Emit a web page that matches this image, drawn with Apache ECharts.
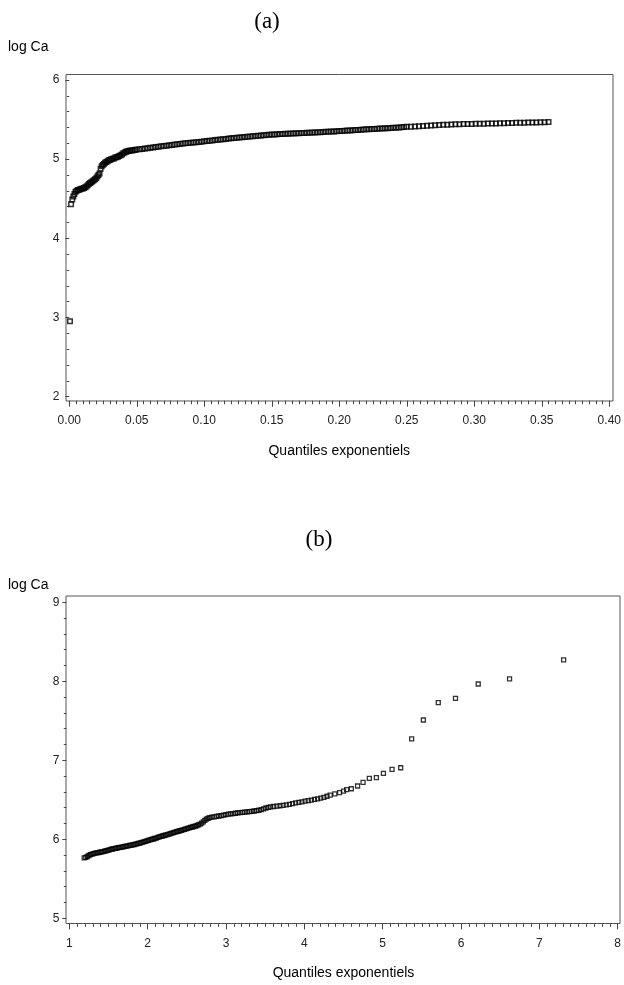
<!DOCTYPE html>
<html>
<head>
<meta charset="utf-8">
<script src="https://cdn.jsdelivr.net/npm/echarts@6/dist/echarts.min.js"></script>
<style>
html,body{margin:0;padding:0;background:#ffffff;}
#chart{width:624px;height:985px;}
</style>
</head>
<body>
<div id="chart"></div>
<script>
// ---------- Data ----------
// Panel (a): exponential quantiles vs log Ca
const aX = [0.0005,
 0.0013,0.0022,0.0030,0.0038,0.0046,0.0055,0.0064,0.0073,0.0082,0.0091,0.0100,0.0109,0.0118,0.0127,0.0136,0.0145,0.0154,0.0163,0.0172,0.0181,0.0190,0.0199,0.0208,0.0216,0.0224,0.0232,0.0240,0.0248,0.0256,0.0265,0.0274,0.0283,0.0292,0.0301,0.0310,0.0320,0.0330,0.0340,0.0350,0.0360,0.0370,0.0380,0.0390,0.0400,0.0410,0.0420,0.0430,0.0440,0.0450,0.0462,0.0474,0.0486,0.0498,
 0.052,0.054,0.056,0.058,0.060,0.062,0.064,0.066,0.068,0.070,0.072,0.074,0.076,0.078,0.080,0.082,0.084,0.086,0.088,0.090,0.092,0.094,0.096,0.098,0.100,0.102,0.104,0.106,0.108,0.110,0.112,0.114,0.116,0.118,0.120,0.122,0.124,0.126,0.128,0.130,0.132,0.134,0.136,0.138,0.140,0.142,0.144,0.146,0.148,0.150,0.152,0.154,0.156,0.158,0.160,0.162,0.164,0.166,0.168,0.170,0.172,0.174,0.176,0.178,0.180,0.182,0.184,0.186,0.188,0.190,0.192,0.194,0.196,0.198,0.200,0.202,0.204,0.206,0.208,0.210,0.212,0.214,0.216,0.218,0.220,0.222,0.224,0.226,0.228,0.230,0.232,0.234,0.236,0.238,0.240,0.242,0.244,0.246,0.248,
 0.250,0.253,0.256,0.259,0.262,0.265,0.268,0.271,0.274,0.277,0.280,0.283,0.286,0.289,0.292,0.295,0.298,0.301,0.304,0.307,0.310,0.313,0.316,0.319,0.322,0.325,0.328,0.331,0.334,0.337,0.340,0.343,0.346,0.349,0.352,0.355,0.357];
const aY = [2.953,
 4.43,4.49,4.53,4.56,4.59,4.60,4.61,4.615,4.62,4.625,4.63,4.635,4.645,4.655,4.67,4.685,4.70,4.71,4.72,4.735,4.745,4.76,4.78,4.80,4.82,4.88,4.91,4.925,4.94,4.955,4.965,4.975,4.985,4.99,5.00,5.005,5.01,5.02,5.025,5.03,5.04,5.05,5.06,5.075,5.085,5.095,5.10,5.104,5.108,5.111,5.114,5.117,
 5.121,5.125,5.130,5.135,5.139,5.144,5.149,5.154,5.158,5.163,5.167,5.171,5.175,5.180,5.184,5.188,5.193,5.197,5.201,5.205,5.208,5.211,5.214,5.218,5.221,5.225,5.229,5.233,5.237,5.241,5.245,5.249,5.252,5.256,5.260,5.263,5.267,5.270,5.274,5.277,5.280,5.284,5.287,5.290,5.293,5.296,5.300,5.303,5.306,5.309,5.311,5.313,5.315,5.317,5.319,5.321,5.322,5.324,5.325,5.327,5.329,5.330,5.332,5.333,5.335,5.337,5.338,5.340,5.341,5.343,5.345,5.347,5.349,5.351,5.353,5.355,5.357,5.359,5.361,5.363,5.366,5.368,5.370,5.373,5.375,5.377,5.379,5.381,5.382,5.384,5.386,5.388,5.390,5.392,5.394,5.396,5.398,5.400,5.403,
 5.405,5.408,5.411,5.414,5.417,5.420,5.423,5.426,5.428,5.431,5.434,5.436,5.438,5.440,5.441,5.443,5.444,5.445,5.447,5.448,5.449,5.450,5.451,5.452,5.454,5.455,5.456,5.457,5.459,5.460,5.461,5.462,5.463,5.464,5.465,5.467,5.468];

// Panel (b): exponential quantiles vs log Ca
const bX = [1.19,1.21,1.23,1.25,1.27,1.29,1.31,1.33,1.35,1.37,1.39,1.41,1.43,1.45,1.47,1.49,1.51,1.53,1.55,1.57,1.59,1.61,1.63,1.65,1.67,1.69,1.71,1.73,1.75,1.77,1.79,1.81,1.83,1.85,1.87,1.89,1.91,1.93,1.95,1.97,1.99,2.01,2.03,2.05,2.07,2.09,2.11,2.13,2.15,2.17,2.19,2.21,2.23,2.25,2.27,2.29,2.31,2.33,2.35,2.37,2.39,2.41,2.43,2.45,2.47,2.49,2.51,2.53,2.55,2.57,2.59,2.61,2.63,2.65,2.67,2.69,2.71,2.73,2.75,2.77,
 2.79,2.82,2.85,2.88,2.91,2.94,2.97,3.00,3.03,3.06,3.09,3.12,3.15,3.18,3.21,3.24,3.27,3.30,3.33,3.36,3.39,3.42,3.45,3.48,3.51,3.54,3.57,
 3.61,3.65,3.69,3.73,3.77,3.81,3.85,3.89,3.93,3.97,4.01,4.05,4.09,4.13,4.17,4.21,4.25,4.29,4.33,4.39,4.45,4.50,4.54,4.60,4.68,4.75,4.83,4.92,5.01,5.12,5.23,5.37,5.52,5.71,5.93,6.22,6.62,7.31];
const bY = [5.765,5.772,5.782,5.795,5.805,5.812,5.818,5.824,5.828,5.832,5.836,5.840,5.845,5.850,5.855,5.860,5.866,5.872,5.877,5.882,5.886,5.890,5.894,5.898,5.902,5.906,5.910,5.914,5.918,5.922,5.926,5.930,5.934,5.938,5.944,5.950,5.956,5.962,5.968,5.974,5.980,5.986,5.992,5.998,6.004,6.010,6.016,6.024,6.030,6.036,6.042,6.048,6.054,6.060,6.066,6.072,6.078,6.084,6.090,6.096,6.102,6.108,6.114,6.120,6.126,6.132,6.138,6.144,6.150,6.156,6.162,6.168,6.175,6.183,6.192,6.205,6.220,6.240,6.255,6.265,
 6.275,6.280,6.285,6.290,6.295,6.300,6.305,6.312,6.318,6.322,6.326,6.330,6.334,6.337,6.340,6.343,6.346,6.350,6.354,6.358,6.362,6.368,6.376,6.386,6.396,6.404,6.410,
 6.415,6.420,6.425,6.430,6.436,6.443,6.452,6.460,6.468,6.475,6.482,6.490,6.497,6.505,6.512,6.520,6.530,6.545,6.560,6.575,6.590,6.610,6.630,6.640,6.675,6.720,6.770,6.780,6.835,6.886,6.906,7.270,7.510,7.730,7.785,7.966,8.030,8.270];

// Axis ranges / ticks
const aXTicks = {min:0, max:0.40, interval:0.05};
const aYTicks = {min:2, max:6, interval:1};
const bXTicks = {min:1, max:8, interval:1};
const bYTicks = {min:5, max:9, interval:1};

const titleA = '(a)', titleB = '(b)';
const yName = 'log Ca';
const xName = 'Quantiles exponentiels';

// ---------- Chart ----------
const SANS = '"Liberation Sans", Arial, sans-serif';
const SERIF = '"Liberation Serif", "Times New Roman", serif';
const axisCol = '#444';

function xAxisCfg(grid, t, fmt, offset, minorSplit) {
  return {
    gridIndex: grid, type: 'value', min: t.min, max: t.max, interval: t.interval,
    offset: offset,
    axisLine: {show: false},
    axisTick: {show: true, length: 6, lineStyle: {color: axisCol, width: 1}},
    minorTick: {show: true, splitNumber: minorSplit, length: 3.5, lineStyle: {color: axisCol, width: 1}},
    splitLine: {show: false},
    axisLabel: {formatter: fmt, fontFamily: SANS, fontSize: 12, color: '#222', margin: 14},
    name: xName, nameLocation: 'middle', nameGap: 43,
    nameTextStyle: {fontFamily: SANS, fontSize: 14, color: '#000'}
  };
}
function yAxisCfg(grid, t) {
  return {
    gridIndex: grid, type: 'value', min: t.min, max: t.max, interval: t.interval,
    offset: 3,
    axisLine: {show: false},
    axisTick: {show: true, length: 4, lineStyle: {color: axisCol, width: 1}},
    minorTick: {show: true, splitNumber: 5, length: 2.5, lineStyle: {color: axisCol, width: 1}},
    splitLine: {show: false},
    axisLabel: {fontFamily: SANS, fontSize: 12, color: '#222', margin: 7}
  };
}

const markerStyle = {color: 'rgba(0,0,0,0)', borderColor: '#000', borderWidth: 1.5};

const chart = echarts.init(document.getElementById('chart'), null, {renderer: 'canvas'});
chart.setOption({
  backgroundColor: '#ffffff',
  animation: false,
  grid: [
    {left: 69.3, right: 14.7, top: 80, bottom: 588.3},
    {left: 69.3, right: 6, top: 602.3, bottom: 66.7}
  ],
  xAxis: [
    xAxisCfg(0, aXTicks, v => v.toFixed(2), 4, 10),
    xAxisCfg(1, bXTicks, v => String(v), 5, 10)
  ],
  yAxis: [
    yAxisCfg(0, aYTicks),
    yAxisCfg(1, bYTicks)
  ],
  series: [
    {type: 'scatter', xAxisIndex: 0, yAxisIndex: 0, symbol: 'rect', symbolSize: 4.5,
     itemStyle: markerStyle, silent: true,
     data: aX.map((x, i) => [x, aY[i]])},
    {type: 'scatter', xAxisIndex: 1, yAxisIndex: 1, symbol: 'rect', symbolSize: 4,
     itemStyle: {color: 'rgba(0,0,0,0)', borderColor: '#000', borderWidth: 1.3}, silent: true,
     data: bX.map((x, i) => [x, bY[i]])}
  ],
  graphic: [
    {type: 'rect', shape: {x: 66, y: 74.5, width: 547, height: 326.5}, style: {fill: 'none', stroke: '#555', lineWidth: 1}, silent: true},
    {type: 'rect', shape: {x: 66, y: 596, width: 554, height: 327.5}, style: {fill: 'none', stroke: '#555', lineWidth: 1}, silent: true},
    {type: 'text', x: 267, y: 22, style: {text: titleA, font: '23px ' + SERIF, fill: '#000', textAlign: 'center', textVerticalAlign: 'middle'}},
    {type: 'text', x: 319, y: 540, style: {text: titleB, font: '23px ' + SERIF, fill: '#000', textAlign: 'center', textVerticalAlign: 'middle'}},
    {type: 'text', x: 8, y: 47, style: {text: yName, font: '14px ' + SANS, fill: '#000', textAlign: 'left', textVerticalAlign: 'middle'}},
    {type: 'text', x: 8, y: 585, style: {text: yName, font: '14px ' + SANS, fill: '#000', textAlign: 'left', textVerticalAlign: 'middle'}}
  ]
});
</script>
</body>
</html>
